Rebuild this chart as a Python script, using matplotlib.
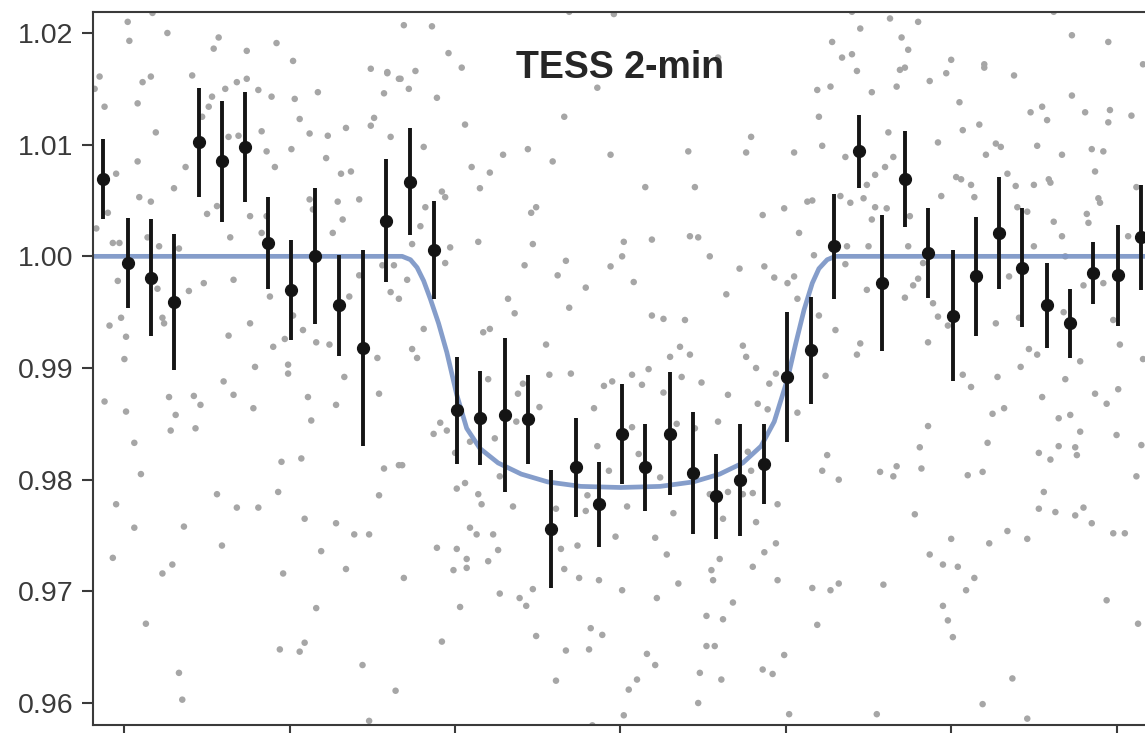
import matplotlib
matplotlib.use('Agg')
import matplotlib.pyplot as plt

# binned light curve (hours from mid-transit, relative flux, 1-sigma error)
bin_t = [-3.13, -2.98, -2.84, -2.70, -2.55, -2.41, -2.27, -2.13, -1.99, -1.85,
         -1.70, -1.56, -1.42, -1.27, -1.13, -0.99, -0.85, -0.70, -0.56, -0.42,
         -0.27, -0.13, 0.01, 0.15, 0.30, 0.44, 0.58, 0.72, 0.87, 1.01,
         1.15, 1.29, 1.44, 1.58, 1.72, 1.86, 2.01, 2.15, 2.29, 2.43,
         2.58, 2.72, 2.86, 3.01, 3.15]
bin_flux = [1.0069, 0.9994, 0.9981, 0.9959, 1.0102, 1.0085, 1.0098, 1.0012, 0.9970, 1.0000,
            0.9956, 0.9918, 1.0032, 1.0067, 1.0006, 0.9862, 0.9855, 0.9858, 0.9854, 0.9756,
            0.9811, 0.9778, 0.9841, 0.9811, 0.9841, 0.9806, 0.9785, 0.9800, 0.9814, 0.9892,
            0.9916, 1.0009, 1.0094, 0.9976, 1.0069, 1.0003, 0.9947, 0.9982, 1.0021, 0.9990,
            0.9956, 0.9940, 0.9985, 0.9983, 1.0017]
bin_err = [0.0036, 0.0040, 0.0052, 0.0061, 0.0049, 0.0054, 0.0049, 0.0041, 0.0045, 0.0061,
           0.0045, 0.0088, 0.0055, 0.0048, 0.0044, 0.0048, 0.0042, 0.0069, 0.0040, 0.0053,
           0.0044, 0.0038, 0.0045, 0.0039, 0.0055, 0.0055, 0.0038, 0.0050, 0.0036, 0.0058,
           0.0048, 0.0047, 0.0033, 0.0061, 0.0043, 0.0040, 0.0059, 0.0053, 0.0050, 0.0053,
           0.0038, 0.0031, 0.0028, 0.0045, 0.0047]

# transit model
model_t = [-3.30, -1.32, -1.27, -1.23, -1.19, -1.15, -1.10, -1.05, -0.99, -0.93,
           -0.85, -0.74, -0.60, -0.44, -0.24, 0.00, 0.24, 0.44, 0.60, 0.74,
           0.85, 0.93, 1.01, 1.06, 1.11, 1.16, 1.20, 1.25, 1.30, 3.30]
model_flux = [1.0000, 1.0000, 0.9997, 0.9990, 0.9978, 0.9962, 0.9940, 0.9914, 0.9876, 0.9846,
              0.9828, 0.9815, 0.9805, 0.9798, 0.9794, 0.9793, 0.9794, 0.9798, 0.9805, 0.9815,
              0.9830, 0.9852, 0.9890, 0.9922, 0.9952, 0.9976, 0.9989, 0.9997, 1.0000, 1.0000]

# unbinned 2-min points
raw_t = [-2.98, -2.97, -2.83, -2.74, -2.43, -2.46, -2.26, -2.08, -1.98, -3.15,
         -3.18, -3.12, -2.89, -2.84, -2.92, -2.59, -2.47, -2.49, -2.53, -2.39,
         -2.32, -2.26, -2.19, -2.11, -1.97, -1.83, -1.94, -1.51, -1.41, -1.43,
         -1.34, -1.49, -1.51, -1.39, -1.66, -1.88, -1.77, -1.99, -2.14, -2.09,
         -2.17, -2.31, -2.37, -2.81, -2.92, -3.05, -2.63, -2.70, -2.91, -2.84,
         -2.50, -2.44, -2.36, -2.24, -2.14, -2.17, -1.88, -1.86, -1.74, -1.71,
         -1.68, -1.58, -1.69, -1.63, -1.78, -3.10, -3.17, -2.86,
         -1.31, -1.14, -1.04, -0.96, -1.41, -1.33, -1.24, -1.28, -1.11, -0.94,
         -0.34, -0.14, -0.31, -0.04, -1.19, -0.90, -0.79, -0.71, -0.56, -0.41,
         -0.06, 0.41, 0.15, 0.45, 0.79, 0.76, 0.86, -0.85, -1.08, -1.06,
         -1.18, -1.21, -1.26, -1.03, -0.86, -0.54, -0.51, -0.53, 0.02, 0.19,
         0.42, 0.47, 0.59,
         1.40, 1.45, 1.63, 1.80, 1.70, 1.74, 1.28, 1.34, 1.40, 1.43,
         1.69, 1.72, 1.67, 1.19, 1.27, 1.52, 1.20, 1.87, 1.97, 2.00,
         2.20, 2.20, 2.38, 2.05, 2.07, 2.17, 1.92, 1.62, 1.05, 1.22,
         1.36, 1.65, 1.60, 1.54, 1.49, 1.47, 1.39, 1.33, 1.13, 1.16,
         0.99, 1.08, 1.54, 1.61, 1.52, 1.75, 1.94, 2.03, 2.06, 2.12,
         2.14, 2.21, 2.27, 2.30, 2.34, 2.39, 2.50, 2.52, 2.59, 2.60,
         2.67, 2.48, 2.55, 2.58, 2.73, 2.73, 2.95, 3.16, 2.81, 2.96,
         2.95, 3.09, 2.85, 2.92, 2.87, 2.89, 2.90, 2.82, 2.83, 2.62,
         2.67, 2.40, 2.46, 3.12, 3.07, 2.62, 2.50, 1.74, 1.37,
         -3.07, -3.03, -3.04, -3.09, -3.02, -2.99, -3.00, -3.12, -2.99, -2.94,
         -2.90, -2.79, -2.80, -2.77, -2.76, -2.73, -2.69, -2.72, -2.67, -2.61,
         -2.52, -2.58, -2.54, -2.57, -2.40, -2.37, -2.34, -2.34, -2.24, -2.21,
         -2.22, -2.12, -2.10, -2.03, -2.01, -2.01, -2.05, -1.93, -1.92, -1.98,
         -1.89, -1.87, -1.84, -1.76, -1.72, -1.67, -1.64, -1.58, -1.47, -1.46,
         -1.43, -1.44, -1.37, -1.39, -1.34, -1.34,
         -1.06, -0.58, -0.33, -0.38, -0.21, -0.31, -0.06, 0.01, 0.08, 0.54,
         0.64, 0.72, 0.87, 0.93, -1.29, -1.19, -1.26, -1.23, -0.68, -0.64,
         -0.83, -0.79, -0.45, -0.43, -0.30, 0.19, 0.26, 0.39, 0.36, 0.42,
         0.30, 0.17, 0.07, 0.13, -0.10, -0.05, 0.74, 0.76, 0.82, 0.94,
         0.90, 0.49, 0.37, 0.26, 0.65, 0.83, 0.89, 0.59, -0.16, -0.49,
         -0.59, -0.62, -0.63, -0.80, -1.09, -1.13, -1.05, -1.32, -0.91, -0.76,
         -1.00, -0.94, -0.14, 0.07, 0.34, 0.45, -0.07, 0.11, 0.77, 0.79,
         0.24, -0.73, -0.99,
         1.50, 1.83, 1.17, 1.01, 1.05, 1.07, 1.20, 1.36, 1.30, 1.49,
         1.45, 1.43, 1.24, 1.07, 1.72, 1.77, 1.80, 1.89, 1.92, 1.98,
         1.86, 2.07, 2.12, 1.86, 1.81, 1.82, 1.67, 1.65, 1.57, 1.25,
         1.22, 1.32, 2.10, 2.19, 2.22, 2.25, 2.32, 2.28, 2.27, 2.35,
         2.41, 2.42, 2.47, 2.52, 2.69, 2.80, 2.92, 2.68, 2.78, 2.69,
         2.55, 2.65, 2.72, 2.78, 2.53, 2.60, 2.65, 2.75, 2.76, 2.87,
         2.94, 3.02, 3.01, 2.98, 3.00, 3.16, 3.15, 3.12,
         -3.05, -3.07, -2.94, -2.87, -2.77, -2.71, -2.64, -2.67, -2.65, -2.44,
         -2.41, -2.32, -2.19, -2.07, -2.04, -2.06, -1.94, -1.91, -1.91, -1.81,
         -1.84, -1.72, -1.61, -1.52, -1.66, -1.56, -1.52, -1.46, -1.36,
         -0.86, -0.84, -0.65, -0.91, -0.87, -0.77, -1.11, -0.99, -0.93, -0.93,
         -1.01, -0.80, -0.74, -1.31, -0.73, -0.61, -0.57, -0.53, -0.97, -1.08,
         -0.51, -0.39, -0.33, -0.19, -0.18, -0.11, -0.36, -0.34, -0.26, -0.25,
         -0.13, -0.39, -0.21, -0.20, -0.03, 0.04, 0.01, 0.16, 0.21, 0.10,
         0.05, 0.02, -0.17, 0.21, 0.32, 0.28, 0.35, 0.22, 0.52, 0.62,
         0.52, 0.57, 0.68, 0.48, 0.61, 0.47, 0.55, 0.56, 0.60, 0.54,
         0.65, 0.74, 0.80, 0.62, 0.82, 0.87, 0.94, 0.80, 0.95, 0.86,
         0.92, 0.95,
         0.99, 1.02, 1.16, 1.27, 1.32, 1.19, 1.59, 1.55, 1.78, 1.87,
         1.95, 2.04, 2.00, 1.95, 1.98, 2.01, 2.09, 2.14, 2.23, 2.34,
         2.46, 2.37, 2.19, 2.46, 2.56, 2.53, 2.63, 2.75, 2.80, 2.85,
         2.98, 3.05, 2.94, 3.13]
raw_flux = [1.0210, 1.0193, 1.0218, 1.0200, 1.0196, 1.0186, 1.0184, 1.0191, 1.0175, 1.0161,
            1.0150, 1.0134, 1.0156, 1.0161, 1.0137, 1.0162, 1.0143, 1.0134, 1.0125, 1.0150,
            1.0156, 1.0159, 1.0149, 1.0143, 1.0141, 1.0147, 1.0123, 1.0168, 1.0164, 1.0146,
            1.0159, 1.0124, 1.0117, 1.0107, 1.0115, 1.0110, 1.0108, 1.0096, 1.0094, 1.0080,
            1.0112, 1.0108, 1.0107, 1.0111, 1.0085, 1.0074, 1.0080, 1.0061, 1.0053, 1.0049,
            1.0038, 1.0045, 1.0017, 1.0036, 1.0036, 1.0021, 1.0051, 1.0042, 1.0021, 1.0049,
            1.0033, 1.0051, 1.0074, 1.0076, 1.0088, 1.0039, 1.0025, 1.0017,
            1.0207, 1.0206, 1.0182, 1.0169, 1.0165, 1.0159, 1.0166, 1.0150, 1.0142, 1.0118,
            1.0125, 1.0151, 1.0219, 1.0217, 1.0098, 1.0080, 1.0075, 1.0091, 1.0096, 1.0085,
            1.0091, 1.0094, 1.0062, 1.0062, 1.0107, 1.0093, 1.0037, 1.0061, 1.0058, 1.0053,
            1.0044, 1.0027, 1.0011, 1.0008, 1.0013, 1.0039, 1.0044, 1.0011, 1.0013, 1.0015,
            1.0018, 1.0017, 1.0178,
            1.0219, 1.0204, 1.0213, 1.0210, 1.0196, 1.0185, 1.0192, 1.0178, 1.0181, 1.0166,
            1.0167, 1.0169, 1.0152, 1.0149, 1.0152, 1.0147, 1.0125, 1.0157, 1.0164, 1.0176,
            1.0172, 1.0169, 1.0162, 1.0138, 1.0113, 1.0118, 1.0102, 1.0111, 1.0093, 1.0099,
            1.0089, 1.0089, 1.0080, 1.0073, 1.0064, 1.0052, 1.0048, 1.0054, 1.0049, 1.0050,
            1.0043, 1.0021, 1.0044, 1.0043, 1.0033, 1.0036, 1.0054, 1.0071, 1.0069, 1.0064,
            1.0053, 1.0091, 1.0101, 1.0098, 1.0074, 1.0063, 1.0064, 1.0099, 1.0069, 1.0066,
            1.0091, 1.0129, 1.0134, 1.0122, 1.0144, 1.0198, 1.0192, 1.0172, 1.0129, 1.0131,
            1.0120, 1.0126, 1.0096, 1.0094, 1.0076, 1.0052, 1.0048, 1.0038, 1.0030, 1.0031,
            1.0018, 1.0044, 1.0040, 1.0062, 1.0018, 1.0219, 1.0009, 1.0009, 1.0009,
            1.0012, 1.0012, 0.9978, 0.9938, 0.9945, 0.9928, 0.9908, 0.9870, 0.9861, 0.9833,
            0.9805, 1.0009, 0.9971, 0.9945, 0.9940, 0.9874, 0.9858, 0.9844, 1.0007, 0.9969,
            0.9976, 0.9875, 0.9867, 0.9846, 0.9888, 0.9929, 0.9979, 0.9876, 0.9940, 0.9901,
            0.9864, 0.9964, 0.9919, 0.9926, 0.9903, 0.9895, 0.9816, 0.9819, 0.9934, 0.9947,
            0.9874, 0.9853, 0.9923, 0.9921, 0.9867, 0.9892, 0.9964, 0.9983, 0.9909, 0.9877,
            0.9810, 0.9992, 0.9992, 0.9968, 0.9962, 0.9813,
            0.9994, 0.9992, 0.9996, 0.9983, 0.9972, 0.9954, 0.9991, 1.0000, 0.9977, 1.0000,
            0.9966, 0.9989, 0.9991, 0.9981, 0.9979, 0.9935, 0.9917, 0.9909, 0.9962, 0.9949,
            0.9932, 0.9935, 0.9921, 0.9894, 0.9895, 0.9947, 0.9944, 0.9943, 0.9919, 0.9912,
            0.9910, 0.9899, 0.9894, 0.9885, 0.9884, 0.9888, 0.9920, 0.9910, 0.9900, 0.9895,
            0.9886, 0.9887, 0.9892, 0.9878, 0.9876, 0.9868, 0.9863, 0.9852, 0.9864, 0.9865,
            0.9886, 0.9877, 0.9852, 0.9890, 0.9851, 0.9841, 0.9844, 0.9813, 0.9834, 0.9837,
            0.9824, 0.9797, 0.9830, 0.9847, 0.9850, 0.9846, 0.9808, 0.9823, 0.9825, 0.9808,
            0.9802, 0.9803, 0.9792,
            1.0009, 0.9994, 1.0001, 0.9976, 0.9982, 0.9962, 0.9947, 0.9993, 0.9934, 0.9970,
            0.9922, 0.9912, 0.9893, 0.9860, 0.9963, 0.9974, 0.9980, 0.9958, 0.9946, 0.9938,
            0.9923, 0.9894, 0.9883, 0.9848, 0.9829, 0.9810, 0.9812, 0.9803, 0.9807, 0.9822,
            0.9808, 0.9800, 0.9804, 0.9807, 0.9833, 0.9859, 0.9864, 0.9892, 0.9940, 0.9982,
            0.9945, 0.9901, 0.9917, 0.9912, 1.0000, 0.9974, 0.9976, 0.9950, 0.9906, 0.9890,
            0.9874, 0.9855, 0.9858, 0.9843, 0.9824, 0.9818, 0.9830, 0.9829, 0.9822, 0.9877,
            0.9868, 0.9921, 0.9881, 0.9943, 0.9840, 0.9908, 0.9831, 0.9803,
            0.9778, 0.9730, 0.9757, 0.9671, 0.9716, 0.9724, 0.9758, 0.9627, 0.9603, 0.9787,
            0.9741, 0.9775, 0.9775, 0.9789, 0.9716, 0.9648, 0.9646, 0.9654, 0.9765, 0.9736,
            0.9685, 0.9761, 0.9751, 0.9751, 0.9720, 0.9634, 0.9584, 0.9786, 0.9611,
            0.9787, 0.9778, 0.9776, 0.9757, 0.9751, 0.9751, 0.9739, 0.9738, 0.9729, 0.9721,
            0.9719, 0.9727, 0.9737, 0.9712, 0.9698, 0.9694, 0.9687, 0.9702, 0.9686, 0.9655,
            0.9660, 0.9620, 0.9647, 0.9648, 0.9667, 0.9661, 0.9738, 0.9720, 0.9741, 0.9712,
            0.9710, 0.9774, 0.9772, 0.9786, 0.9749, 0.9776, 0.9701, 0.9644, 0.9634, 0.9621,
            0.9612, 0.9589, 0.9580, 0.9748, 0.9770, 0.9733, 0.9707, 0.9694, 0.9678, 0.9675,
            0.9651, 0.9651, 0.9690, 0.9627, 0.9621, 0.9600, 0.9719, 0.9710, 0.9729, 0.9787,
            0.9789, 0.9787, 0.9788, 0.9765, 0.9762, 0.9735, 0.9743, 0.9722, 0.9710, 0.9630,
            0.9626, 0.9778,
            0.9643, 0.9590, 0.9703, 0.9701, 0.9707, 0.9670, 0.9706, 0.9590, 0.9769, 0.9733,
            0.9724, 0.9722, 0.9747, 0.9687, 0.9674, 0.9659, 0.9701, 0.9712, 0.9743, 0.9754,
            0.9747, 0.9622, 0.9599, 0.9586, 0.9789, 0.9774, 0.9771, 0.9768, 0.9775, 0.9761,
            0.9752, 0.9752, 0.9692, 0.9671]

x_ticks = [-3, -2, -1, 0, 1, 2, 3]
y_ticks = [0.96, 0.97, 0.98, 0.99, 1.00, 1.01, 1.02]
title = 'TESS 2-min'

plt.rcParams['font.family'] = ['Liberation Sans', 'DejaVu Sans']

fig = plt.figure(figsize=(11.45, 7.33), dpi=100)
# right spine sits just outside the picture, as in the original crop
ax = fig.add_axes([0.0812, 0.0109, 0.9214, 0.9727])

ax.scatter(raw_t, raw_flux, s=22, color='#a6a6a6', edgecolors='none', zorder=1)
ax.plot(model_t, model_flux, color='#7f98c8', lw=3.4, alpha=0.95, zorder=2,
        solid_joinstyle='round')
ax.errorbar(bin_t, bin_flux, yerr=bin_err, fmt='o', color='#141414',
            ms=8.5, elinewidth=2.8, capsize=0, zorder=3)

ax.text(0.5, 0.921, title, transform=ax.transAxes, ha='center', va='center',
        fontsize=27, fontweight='bold', color='#262626')

ax.set_xlim(-3.19, 3.19)
ax.set_ylim(0.95803, 1.02188)
ax.set_xticks(x_ticks)
ax.set_yticks(y_ticks)
ax.set_yticklabels(['%.2f' % v for v in y_ticks])
ax.set_xticklabels([])

for sp in ax.spines.values():
    sp.set_color('#3a3a3a')
    sp.set_linewidth(1.5)
ax.tick_params(axis='both', direction='out', length=8, width=1.5,
               color='#3a3a3a', labelsize=20.5, labelcolor='#3a3a3a', pad=6)

fig.savefig('out.png', dpi=100)
